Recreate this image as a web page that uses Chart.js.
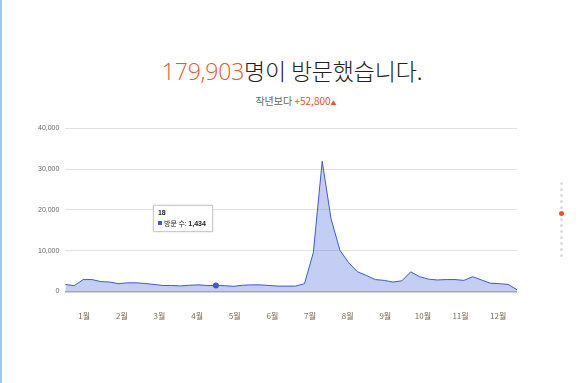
<!DOCTYPE html>
<html>
<head>
<meta charset="utf-8">
<script src="https://cdn.jsdelivr.net/npm/chart.js@4"></script>
<style>
  html, body { margin:0; padding:0; background:#fff; width:580px; height:383px; overflow:hidden; }
  body { position:relative; font-family:"Noto Sans CJK KR","Noto Sans",sans-serif; }
  #leftbar { position:absolute; left:0; top:0; width:2px; height:383px; background:#9ccaf0; }
  #title { position:absolute; left:0; width:584px; top:54px; text-align:center; font-size:23px; font-weight:300; color:#222; letter-spacing:-0.2px; line-height:32px; }
  #title .num { color:#f0522e; font-family:"Open Sans","Noto Sans",sans-serif; font-weight:300; }
  #sub { position:absolute; left:0; width:592px; top:94px; text-align:center; font-size:10px; color:#666; line-height:14px; }
  #sub .num { color:#f0522e; }
  #sub .tri { color:#f0522e; font-size:6px; }
  #wrap { position:absolute; left:0; top:118px; width:540px; height:223px; }
  #dots { position:absolute; left:558px; top:182px; width:6px; }
  #dots div { width:3px; height:3px; border-radius:50%; background:#ddd; margin:0 auto 3px auto; }
  #dots div.on { width:5px; height:5px; background:#f0522e; margin-bottom:2px; margin-top:-1px;}
  #tt { position:absolute; background:#fff; border:1px solid #ccc; box-shadow:0 0 2px rgba(0,0,0,0.15); padding:2px 6px 2px 4px; font-size:7px; color:#222; line-height:10px; white-space:nowrap; pointer-events:none; font-family:"Noto Sans CJK KR",Arial,sans-serif; }
  #tt .t { font-weight:bold; font-family:Arial,"Liberation Sans",sans-serif; }
  #tt .sq { display:inline-block; width:4px; height:4px; background:#3b5bd6; margin-right:2px; vertical-align:1px; }
  #tt b { font-family:Arial,"Liberation Sans",sans-serif; }
</style>
</head>
<body>
<div id="leftbar"></div>
<div id="title"><span class="num" id="totalNum"></span>명이 방문했습니다.</div>
<div id="sub">작년보다 <span class="num" id="diffNum"></span><span class="tri">▲</span></div>
<div id="wrap"><canvas id="c" width="540" height="223"></canvas></div>
<div id="dots"></div>
<div id="tt" style="display:none"></div>
<script>
// ---- data ----
const totalVisitors = "179,903";
const diffFromLastYear = "+52,800";
const weeks = Array.from({length:52}, (_, i) => String(i + 1));
const visits = [1700,1400,2900,2900,2400,2300,1900,2100,2100,1950,
                1700,1450,1450,1350,1500,1600,1450,1434,1400,1250,
                1500,1600,1600,1450,1300,1300,1300,1900,9500,31900,
                17800,10100,7000,4800,3900,2900,2700,2300,2600,4800,
                3600,3000,2800,2900,2900,2700,3600,2800,2000,1900,
                1700,400];
const monthLabels = ["1월","2월","3월","4월","5월","6월","7월","8월","9월","10월","11월","12월"];
const yTicks = [0,10000,20000,30000,40000];
const seriesName = "방문 수";
const activeIndex = 17;

document.getElementById('totalNum').textContent = totalVisitors;
document.getElementById('diffNum').textContent = diffFromLastYear;
const dots = document.getElementById('dots');
for (let i = 0; i < 13; i++) {
  const d = document.createElement('div');
  if (i === 5) d.className = 'on';
  dots.appendChild(d);
}

const fmt = v => v.toLocaleString('en-US');

function externalTooltip(ctx) {
  const el = document.getElementById('tt');
  const tm = ctx.tooltip;
  if (tm.opacity === 0 || !tm.dataPoints || !tm.dataPoints.length) { el.style.display = 'none'; return; }
  const dp = tm.dataPoints[0];
  el.innerHTML = '<div class="t">' + dp.label + '</div><div><span class="sq"></span>' + seriesName + ': <b>' + fmt(dp.raw) + '</b></div>';
  el.style.display = 'block';
  const rect = ctx.chart.canvas.getBoundingClientRect();
  const px = rect.left + dp.element.x;
  const py = rect.top + dp.element.y;
  el.style.left = (px - 63) + 'px';
  el.style.top = (py - 81) + 'px';
}

const chart = new Chart(document.getElementById('c'), {
  type: 'line',
  data: {
    labels: weeks,
    datasets: [{
      label: seriesName,
      data: visits,
      borderColor: '#3b5bd6',
      backgroundColor: 'rgba(59,91,214,0.3)',
      borderWidth: 1,
      fill: 'origin',
      tension: 0,
      pointRadius: 0,
      pointHoverRadius: 3,
      pointHoverBorderWidth: 0,
      pointBackgroundColor: '#3b5bd6',
      pointHoverBackgroundColor: '#3b5bd6'
    }]
  },
  options: {
    responsive: false,
    animation: false,
    layout: { padding: { left: 32, right: 23, top: 2, bottom: 0 } },
    plugins: {
      legend: { display: false },
      tooltip: { enabled: false, external: externalTooltip, mode: 'index', intersect: false }
    },
    scales: {
      x: { type: 'category', display: false, offset: false },
      xMonth: {
        type: 'category', labels: monthLabels, position: 'bottom', offset: true,
        grid: { display: false, drawTicks: false },
        border: { display: false },
        ticks: { color: '#7a6a55', font: { size: 8, family: '"Noto Sans CJK KR"' }, padding: 20, maxRotation: 0, autoSkip: false }
      },
      y: {
        min: 0, max: 40000,
        afterBuildTicks: s => { s.ticks = yTicks.map(v => ({ value: v })); },
        grid: {
          color: ctx => ctx.tick && ctx.tick.value === 0 ? '#aaa' : '#e2e2e2',
          lineWidth: ctx => ctx.tick && ctx.tick.value === 0 ? 1.5 : 1,
          drawTicks: false
        },
        border: { display: false },
        ticks: { color: '#666', font: { size: 7, family: 'Arial, "Liberation Sans"' }, padding: 6, callback: v => fmt(v) }
      }
    }
  }
});

chart.setActiveElements([{ datasetIndex: 0, index: activeIndex }]);
const meta = chart.getDatasetMeta(0);
chart.tooltip.setActiveElements([{ datasetIndex: 0, index: activeIndex }], { x: meta.data[activeIndex].x, y: meta.data[activeIndex].y });
chart.update();
</script>
</body>
</html>
